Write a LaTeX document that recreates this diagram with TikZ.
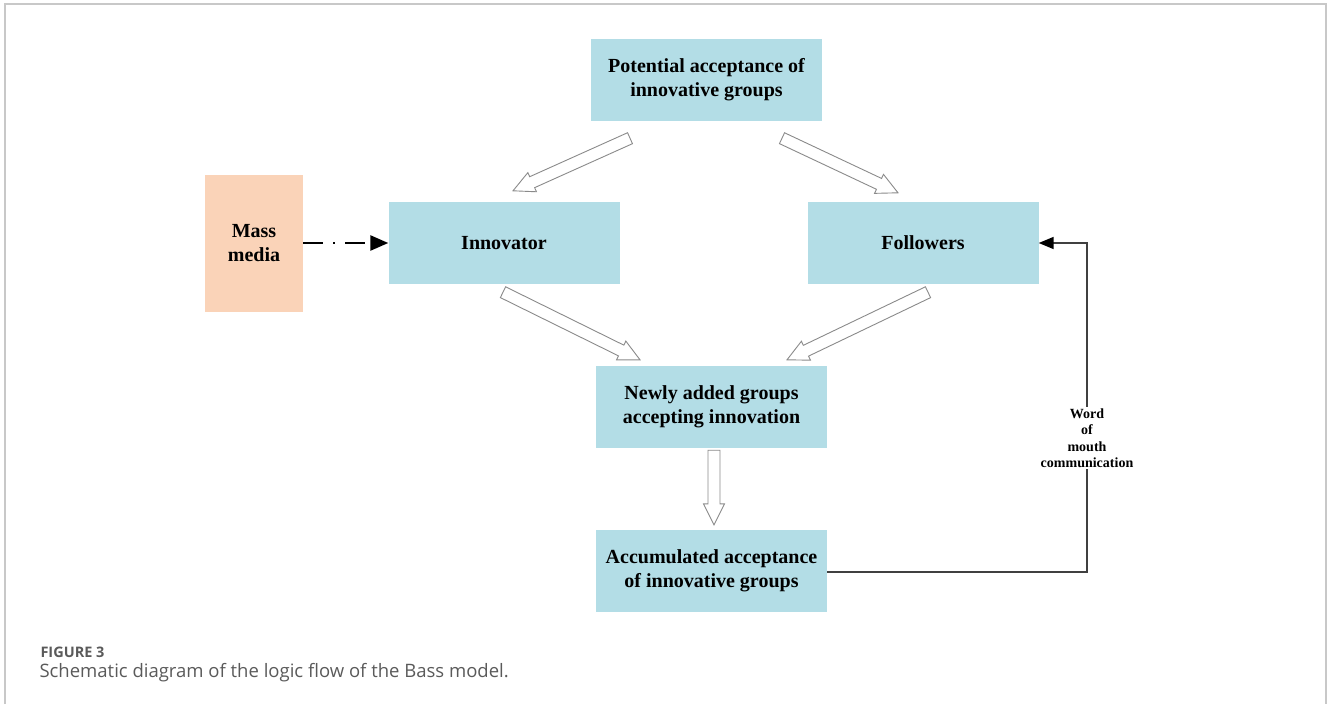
\documentclass[tikz,border=0pt]{standalone}
\usepackage{fontspec}
\setmainfont{Liberation Serif}
\newfontfamily\capfont{Open Sans}
\usetikzlibrary{arrows.meta}
\usetikzlibrary{calc}

\definecolor{boxblue}{HTML}{B3DDE6}
\definecolor{boxpeach}{HTML}{FAD3B8}
\definecolor{framegray}{HTML}{C8C8C8}
\definecolor{arrowgray}{HTML}{8A8A8A}
\definecolor{capgray}{HTML}{5A5A5A}

\tikzset{
	flowbox/.style={fill=boxblue, minimum width=231pt, minimum height=82pt, align=center, font=\bfseries\fontsize{20}{24}\selectfont},
	mediabox/.style={fill=boxpeach, minimum width=98pt, minimum height=137pt, align=center, font=\bfseries\fontsize{20}{24}\selectfont},
	hollowline/.style={draw=arrowgray, line width=0.9pt, fill=white, line join=miter},
	medialine/.style={line width=2.6pt, dash pattern=on 20pt off 10pt on 2pt off 10pt, -{Triangle[length=18pt,width=15pt]}},
	wordline/.style={draw=black!75, line width=1.6pt, -{Triangle[length=15pt,width=12pt,color=black]}}
}

\newcommand\hollowarrow[2]{%
	\path #1 coordinate (ha-s) #2 coordinate (ha-e);
	\coordinate (ha-b) at ($(ha-e)!21pt!(ha-s)$);
	\draw[hollowline] ($(ha-s)!6pt!90:(ha-e)$) -- ($(ha-b)!6pt!90:(ha-e)$) -- ($(ha-b)!10.5pt!90:(ha-e)$) -- (ha-e) -- ($(ha-b)!10.5pt!-90:(ha-e)$) -- ($(ha-b)!6pt!-90:(ha-e)$) -- ($(ha-s)!6pt!-90:(ha-e)$) -- cycle;}

\begin{document}
\begin{tikzpicture}[x=1pt, y=-1pt]
	\useasboundingbox (0,0) rectangle (1330,704);
	\draw[framegray, line width=1.2pt] (5,704) -- (5,4) -- (1326,4) -- (1326,704);

	\node[flowbox] (pot) at (706.5,80) {Potential acceptance of\\innovative groups};
	\node[flowbox] (inn) at (504,243) {Innovator};
	\node[flowbox] (fol) at (923,243) {Followers};
	\node[flowbox] (new) at (711.5,407) {Newly added groups\\accepting innovation};
	\node[flowbox] (acc) at (711.5,571) {Accumulated acceptance\\of innovative groups};
	\node[mediabox] (mass) at (254,243) {Mass\\media};

	\hollowarrow{($(pot.south)+(-76.5,17)$)}{($(inn.north)+(9,-11)$)}
	\hollowarrow{($(pot.south)+(75.5,17)$)}{($(fol.north)+(-25,-9)$)}
	\hollowarrow{($(inn.south)+(-1,8)$)}{($(new.north)+(-71.5,-6)$)}
	\hollowarrow{($(fol.south)+(5,8)$)}{($(new.north)+(75.5,-6)$)}
	\hollowarrow{($(new.south)+(2.5,2)$)}{($(acc.north)+(2.5,-5)$)}

	\draw[medialine] (mass.east) -- (inn.west);

	\coordinate (corner) at (1087,572);
	\draw[wordline] (acc.east |- corner) -- (corner) -- (corner |- fol.east) -- (fol.east);
	\node[fill=white, inner sep=1pt, align=center, font=\bfseries\fontsize{14}{16.5}\selectfont] (word) at (1087,438) {Word\\of\\mouth\\communication};

	\node[anchor=base west, text=capgray, font=\capfont\bfseries\fontsize{14.5}{16}\selectfont] (figlabel) at (37,657) {FIGURE 3};
	\node[anchor=base west, text=capgray, font=\capfont\fontsize{18.5}{22}\selectfont] (caption) at (36,677) {Schematic diagram of the logic flow of the Bass model.};
\end{tikzpicture}
\end{document}
